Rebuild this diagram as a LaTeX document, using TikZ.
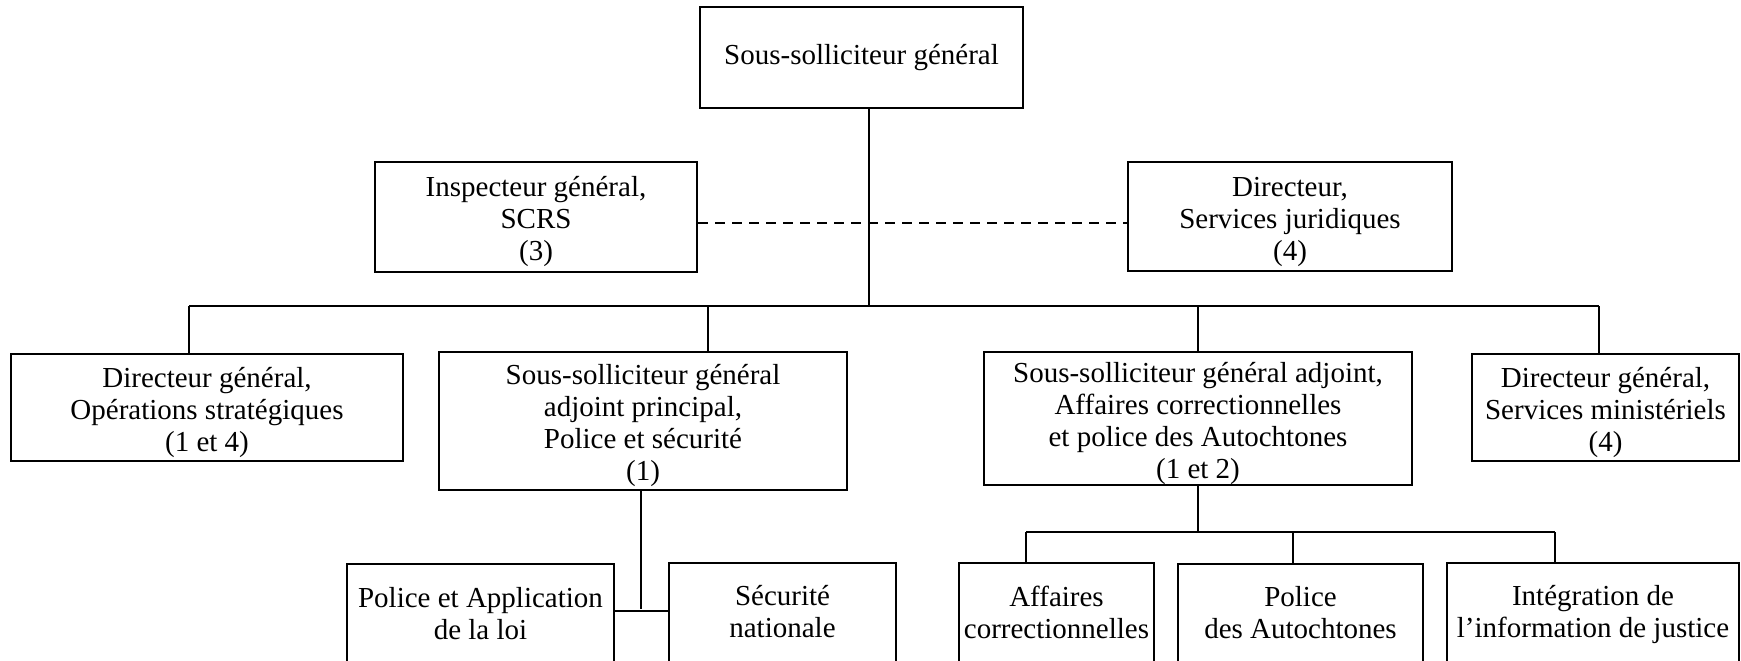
\documentclass[tikz,border=0pt]{standalone}
\usepackage{fontspec}
\setmainfont{Liberation Serif}
\newcommand\tstr{\rule{0pt}{29.5pt}}
\newcommand\bstr{\rule[-6.3pt]{0pt}{6.3pt}}
\tikzset{
  box/.style={draw, line width=2pt, inner sep=0pt, align=center, rectangle},
  link/.style={line width=2pt},
  dlink/.style={line width=2pt, dash pattern=on 10pt off 7pt},
}
\begin{document}
\begin{tikzpicture}[x=1pt,y=-1pt,font=\fontsize{29}{32}\selectfont]
\path[use as bounding box] (0,0) rectangle (1741,661);
\begin{scope}
\clip (0,0) rectangle (1741,661);
% top
\node[box, minimum width=323pt, minimum height=101pt] (top) at (861.5,57.5) {Sous-solliciteur général};
% staff
\node[box, minimum width=322pt, minimum height=110pt] (insp) at (536,217) {\tstr Inspecteur général,\\SCRS\\(3)\bstr};
\node[box, minimum width=324pt, minimum height=109pt] (dir) at (1290,216.5) {\tstr Directeur,\\Services juridiques\\(4)\bstr};
% level 2
\node[box, minimum width=392pt, minimum height=107pt] (ops) at (207,407.5) {\tstr Directeur général,\\Opérations stratégiques\\(1 et 4)\bstr};
\node[box, minimum width=408pt, minimum height=138pt] (ssp) at (643,421) {\tstr Sous-solliciteur général\\adjoint principal,\\Police et sécurité\\(1)\bstr};
\node[box, minimum width=428pt, minimum height=133pt] (ssa) at (1198,418.5) {\tstr Sous-solliciteur général adjoint,\\Affaires correctionnelles\\et police des Autochtones\\(1 et 2)\bstr};
\node[box, minimum width=267pt, minimum height=107pt] (dgs) at (1605.5,407.5) {\tstr Directeur général,\\Services ministériels\\(4)\bstr};
% level 3
\node[box, minimum width=267pt, minimum height=106pt] (pal) at (480.5,617) {Police et Application\\de la loi\bstr};
\node[box, minimum width=227pt, minimum height=104pt] (sec) at (782.5,615) {Sécurité\\nationale\bstr};
\node[box, minimum width=195pt, minimum height=104pt] (aco) at (1056.5,615) {Affaires\\correctionnelles\bstr};
\node[box, minimum width=245pt, minimum height=104pt] (pau) at (1300.5,616) {Police\\des Autochtones\bstr};
\node[box, minimum width=292pt, minimum height=104pt] (iij) at (1593,615) {Intégration de\\l’information de justice\bstr};
% coordinates
\coordinate (trunk) at (869,306);
\coordinate (dsh) at (869,223);
\coordinate (bl) at (189,306);
\coordinate (b2) at (708,306);
\coordinate (b3) at (1198,306);
\coordinate (br) at (1599,306);
\coordinate (pj) at (641,611);
\coordinate (sb) at (1198,532);
\coordinate (s1) at (1026,532);
\coordinate (s2) at (1293,532);
\coordinate (s3) at (1555,532);
% connectors
\draw[link] (top.south -| trunk) -- (trunk);
\draw[dlink] (insp.east |- dsh) -- (dir.west |- dsh);
\draw[link] (bl) -- (br);
\draw[link] (bl) -- (ops.north -| bl);
\draw[link] (b2) -- (ssp.north -| b2);
\draw[link] (b3) -- (ssa.north);
\draw[link] (br) -- (dgs.north -| br);
\draw[link] (ssp.south -| pj) -- ([yshift=2pt]pj);
\draw[link] (pal.east |- pj) -- (sec.west |- pj);
\draw[link] (ssa.south) -- (sb);
\draw[link] (s1) -- (s3);
\draw[link] (s1) -- (aco.north -| s1);
\draw[link] (s2) -- (pau.north -| s2);
\draw[link] (s3) -- (iij.north -| s3);
\end{scope}
\end{tikzpicture}
\end{document}
